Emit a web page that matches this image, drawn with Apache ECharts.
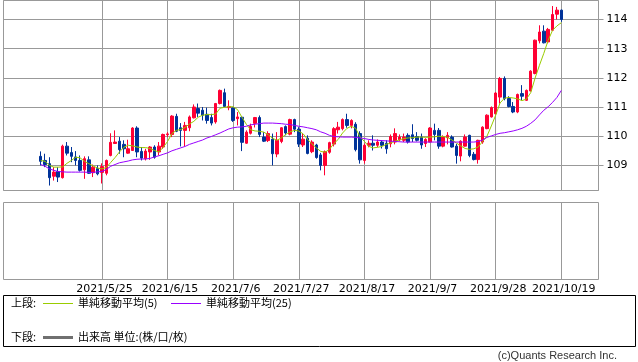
<!DOCTYPE html>
<html><head><meta charset="utf-8">
<script src="https://cdn.jsdelivr.net/npm/echarts@6/dist/echarts.min.js"></script>
<style>html,body{margin:0;padding:0;background:#fff}#c{width:638px;height:362px}</style>
</head><body><div id="c"></div>
<script>
const dates = ['2021/5/5','2021/5/6','2021/5/7','2021/5/10','2021/5/11','2021/5/12','2021/5/13','2021/5/14','2021/5/17','2021/5/18','2021/5/19','2021/5/20','2021/5/21','2021/5/24','2021/5/25','2021/5/26','2021/5/27','2021/5/28','2021/5/31',
'2021/6/1','2021/6/2','2021/6/3','2021/6/4','2021/6/7','2021/6/8','2021/6/9','2021/6/10','2021/6/11','2021/6/14','2021/6/15','2021/6/16','2021/6/17','2021/6/18','2021/6/21','2021/6/22','2021/6/23','2021/6/24','2021/6/25','2021/6/28','2021/6/29','2021/6/30',
'2021/7/1','2021/7/2','2021/7/5','2021/7/6','2021/7/7','2021/7/8','2021/7/9','2021/7/12','2021/7/13','2021/7/14','2021/7/15','2021/7/16','2021/7/19','2021/7/20','2021/7/21','2021/7/22','2021/7/23','2021/7/26','2021/7/27','2021/7/28','2021/7/29','2021/7/30',
'2021/8/2','2021/8/3','2021/8/4','2021/8/5','2021/8/6','2021/8/9','2021/8/10','2021/8/11','2021/8/12','2021/8/13','2021/8/16','2021/8/17','2021/8/18','2021/8/19','2021/8/20','2021/8/23','2021/8/24','2021/8/25','2021/8/26','2021/8/27','2021/8/30','2021/8/31',
'2021/9/1','2021/9/2','2021/9/3','2021/9/6','2021/9/7','2021/9/8','2021/9/9','2021/9/10','2021/9/13','2021/9/14','2021/9/15','2021/9/16','2021/9/17','2021/9/20','2021/9/21','2021/9/22','2021/9/23','2021/9/24','2021/9/27','2021/9/28','2021/9/29','2021/9/30',
'2021/10/1','2021/10/4','2021/10/5','2021/10/6','2021/10/7','2021/10/8','2021/10/11','2021/10/12','2021/10/13','2021/10/14','2021/10/15','2021/10/18','2021/10/19'];

const opens = [109.31,109.17,109.06,108.63,108.79,108.58,109.66,109.44,109.29,109.17,108.85,109.19,108.75,108.89,108.76,108.73,109.34,109.75,109.83,
109.72,109.42,109.51,110.28,109.48,109.23,109.46,109.63,109.46,109.63,110.05,110.06,110.68,110.29,110.20,110.29,110.63,110.95,110.89,110.75,110.64,110.49,
111.12,111.49,110.98,110.97,110.60,110.65,109.76,110.10,110.44,110.64,109.97,109.85,109.90,109.39,109.82,110.33,110.07,110.57,110.24,109.70,109.93,109.47,
109.70,109.36,109.00,109.45,109.73,110.22,110.26,110.57,110.37,110.41,110.09,109.17,109.69,109.76,109.69,109.80,109.76,109.74,109.80,109.88,109.86,110.03,
110.05,109.99,109.97,109.75,109.80,110.20,110.20,109.66,109.95,109.97,109.66,109.32,109.66,110.03,109.38,109.20,109.80,110.26,110.66,110.77,111.34,111.98,
111.29,111.02,110.83,111.46,111.23,111.55,112.15,113.27,113.60,113.23,113.63,114.18,114.32];
const closes = [109.14,109.03,108.58,108.77,108.60,109.66,109.42,109.31,109.17,108.83,109.23,108.73,108.94,108.71,108.96,109.17,109.79,109.80,109.54,
109.57,109.57,110.28,109.46,109.25,109.49,109.63,109.28,109.66,110.06,110.08,110.69,110.17,110.20,110.37,110.66,111.00,110.79,110.72,110.54,110.45,111.12,
111.57,111.02,111.02,110.54,110.66,109.79,110.14,110.34,110.64,110.06,109.83,110.09,109.40,109.86,110.29,110.11,110.57,110.24,109.73,109.90,109.41,109.80,
109.27,109.00,109.47,109.78,110.26,110.31,110.57,110.37,110.54,109.54,109.19,109.69,109.76,109.69,109.80,109.69,109.57,109.99,110.09,109.97,109.97,109.80,
109.92,109.86,109.70,109.89,110.28,110.06,109.66,109.97,110.03,109.63,109.34,109.83,109.97,109.34,109.20,109.86,110.31,110.72,110.98,111.48,111.98,111.29,
111.02,110.83,111.43,111.37,111.57,112.23,113.29,113.57,113.20,113.66,114.17,114.32,114.00];
const lows = [109.00,108.94,108.31,108.48,108.43,108.55,109.34,109.11,109.00,108.79,108.54,108.71,108.60,108.66,108.38,108.66,109.31,109.74,109.40,
109.28,109.40,109.51,109.28,109.17,109.17,109.19,109.23,109.34,109.57,109.97,109.97,110.14,109.65,109.66,110.17,110.61,110.66,110.54,110.43,110.37,110.43,
111.09,111.00,110.89,110.49,110.37,109.49,109.74,110.06,110.30,109.97,109.80,109.80,109.00,109.28,109.76,110.03,110.03,110.14,109.63,109.63,109.38,109.42,
109.23,108.83,108.66,109.40,109.65,110.09,110.20,110.29,110.27,109.48,109.06,109.06,109.62,109.51,109.62,109.58,109.40,109.62,109.72,109.82,109.80,109.75,
109.80,109.82,109.57,109.63,109.79,109.86,109.57,109.62,109.72,109.61,109.06,109.14,109.65,109.28,109.17,109.06,109.74,110.24,110.64,110.75,111.12,111.23,
110.99,110.79,110.79,111.23,111.21,111.54,112.12,113.18,113.18,113.18,113.61,114.00,113.92];
const highs = [109.48,109.40,109.28,108.94,108.94,109.71,109.80,109.63,109.49,109.34,109.31,109.31,109.03,109.00,109.07,109.20,110.10,110.20,109.97,
109.86,109.88,110.31,110.34,109.63,109.57,109.66,109.69,109.80,110.09,110.14,110.72,110.77,110.45,110.49,110.71,111.09,111.12,111.00,110.98,110.77,111.14,
111.60,111.63,111.23,110.98,110.83,110.68,110.20,110.43,110.66,110.71,110.14,110.17,110.09,110.14,110.31,110.37,110.60,110.60,110.31,110.09,110.03,109.86,
109.74,109.43,109.51,109.81,110.31,110.49,110.61,110.77,110.58,110.48,110.17,109.75,109.86,110.03,109.89,109.86,109.86,110.06,110.27,110.06,110.09,110.10,
110.41,110.14,110.09,109.93,110.31,110.43,110.28,110.03,110.14,110.03,109.74,109.86,110.06,110.05,109.46,109.88,110.34,110.75,111.02,111.51,112.03,112.05,
111.37,111.17,111.46,111.75,111.60,112.26,113.31,113.80,113.80,113.71,114.46,114.43,114.34];
const ma5 = [109.17,109.14,109.00,108.94,108.94,108.95,109.07,109.17,109.28,109.26,109.14,109.06,108.98,108.91,108.88,108.93,109.10,109.27,109.46,
109.62,109.69,109.67,109.63,109.61,109.61,109.58,109.51,109.46,109.62,109.82,110.09,110.20,110.23,110.30,110.42,110.51,110.65,110.72,110.74,110.74,110.76,
110.96,110.99,111.01,111.01,110.91,110.65,110.41,110.22,110.18,110.17,110.14,110.05,109.93,109.86,109.94,110.06,110.15,110.20,110.18,110.08,109.89,109.74,
109.60,109.48,109.45,109.55,109.75,109.89,110.11,110.27,110.34,110.27,109.98,109.82,109.65,109.60,109.62,109.65,109.72,109.77,109.83,109.87,109.92,109.94,
109.95,109.97,109.97,109.96,109.97,109.98,110.00,109.99,109.96,109.87,109.77,109.67,109.58,109.55,109.57,109.63,109.82,110.00,110.35,110.72,111.14,111.30,
111.33,111.31,111.28,111.22,111.27,111.49,111.99,112.43,112.84,113.29,113.63,113.78,113.89];
const ma25 = [109.03,108.97,108.88,108.83,108.79,108.78,108.77,108.77,108.77,108.77,108.77,108.76,108.76,108.78,108.79,108.86,108.97,109.03,109.09,
109.12,109.15,109.19,109.21,109.22,109.22,109.24,109.29,109.33,109.38,109.43,109.50,109.55,109.60,109.65,109.72,109.77,109.82,109.87,109.94,109.99,110.05,
110.11,110.18,110.25,110.29,110.31,110.32,110.34,110.39,110.41,110.43,110.45,110.45,110.45,110.44,110.43,110.41,110.40,110.37,110.34,110.32,110.29,110.26,
110.22,110.15,110.10,110.03,109.99,109.98,109.97,109.97,109.97,109.96,109.94,109.92,109.89,109.87,109.86,109.85,109.84,109.83,109.82,109.81,109.80,109.80,
109.80,109.80,109.80,109.80,109.80,109.80,109.80,109.80,109.80,109.80,109.80,109.80,109.80,109.80,109.80,109.82,109.87,109.96,110.01,110.06,110.10,110.12,
110.15,110.18,110.22,110.27,110.34,110.44,110.56,110.73,110.89,111.01,111.16,111.33,111.57];
const tickDates = ['2021/5/25','2021/6/15','2021/7/6','2021/7/27','2021/8/17','2021/9/7','2021/9/28','2021/10/19'];

const PAD = 8;
const padL = Array.from({length: PAD}, (_, i) => 'padL' + i);
const padR = Array.from({length: PAD}, (_, i) => 'padR' + i);
const blanks = Array.from({length: PAD}, () => '-');
const cats = padL.concat(dates, padR);
const candleData = blanks.concat(dates.map((d, i) => [opens[i], closes[i], lows[i], highs[i]]), blanks);
const ma5Data = blanks.concat(ma5, blanks);
const ma25Data = blanks.concat(ma25, blanks);
const isTick = (idx, val) => tickDates.indexOf(val) >= 0;

const GRID = '#999999';
const C5 = '#99cc00', C25 = '#9900ff';
const JP = '11px "Noto Sans CJK JP"';
const chart = echarts.init(document.getElementById('c'), null, {renderer: 'canvas'});
chart.setOption({
  animation: false,
  backgroundColor: '#ffffff',
  textStyle: {fontFamily: 'DejaVu Sans'},
  grid: [
    {left: 3.5, top: 0.5, width: 595, height: 190, show: true, borderColor: GRID, borderWidth: 1, backgroundColor: 'transparent'},
    {left: 3.5, top: 202.5, width: 595, height: 77, show: true, borderColor: GRID, borderWidth: 1, backgroundColor: 'transparent'}
  ],
  xAxis: [
    {type: 'category', gridIndex: 0, data: cats, boundaryGap: true,
     axisLine: {show: false}, axisTick: {show: false}, axisLabel: {show: false},
     splitLine: {show: true, interval: isTick, alignWithLabel: true, lineStyle: {color: GRID, width: 1}}},
    {type: 'category', gridIndex: 1, data: cats, boundaryGap: true,
     axisLine: {show: false}, axisTick: {show: false},
     axisLabel: {show: true, interval: isTick, margin: 4, fontSize: 11, fontFamily: 'DejaVu Sans', color: '#000', padding: [0, 0, 0, 5]},
     splitLine: {show: true, interval: isTick, alignWithLabel: true, lineStyle: {color: GRID, width: 1}}}
  ],
  yAxis: [
    {type: 'value', gridIndex: 0, position: 'right', min: 108.14, max: 114.65, splitNumber: 6,
     axisLine: {show: false},
     axisTick: {show: true, inside: false, length: 5, lineStyle: {color: GRID}},
     axisLabel: {margin: 8, fontSize: 11, fontFamily: 'DejaVu Sans', color: '#000', showMinLabel: false, showMaxLabel: false},
     splitLine: {show: true, lineStyle: {color: GRID, width: 1}}},
    {type: 'value', gridIndex: 1, min: 0, max: 1, show: false, splitLine: {show: false}}
  ],
  series: [
    {name: '日足', type: 'candlestick', xAxisIndex: 0, yAxisIndex: 0, data: candleData, barWidth: 3,
     itemStyle: {color: '#ff0033', color0: '#003399', borderColor: '#ff0033', borderColor0: '#003399', borderWidth: 1}},
    {name: '単純移動平均(5)', type: 'line', xAxisIndex: 0, yAxisIndex: 0, data: ma5Data, symbol: 'none',
     lineStyle: {color: C5, width: 1}, itemStyle: {color: C5}},
    {name: '単純移動平均(25)', type: 'line', xAxisIndex: 0, yAxisIndex: 0, data: ma25Data, symbol: 'none',
     lineStyle: {color: C25, width: 1}, itemStyle: {color: C25}}
  ],
  graphic: [
    {type: 'rect', shape: {x: 3.5, y: 295.5, width: 632, height: 51}, style: {fill: 'none', stroke: '#000', lineWidth: 1}, silent: true},
    {type: 'text', x: 11, y: 303, style: {text: '上段:', font: JP, fill: '#000', verticalAlign: 'middle'}},
    {type: 'line', shape: {x1: 43, y1: 303.5, x2: 73, y2: 303.5}, style: {stroke: C5, lineWidth: 1}, silent: true},
    {type: 'text', x: 78, y: 303, style: {text: '単純移動平均(5)', font: JP, fill: '#000', verticalAlign: 'middle'}},
    {type: 'line', shape: {x1: 171, y1: 303.5, x2: 201, y2: 303.5}, style: {stroke: C25, lineWidth: 1}, silent: true},
    {type: 'text', x: 206, y: 303, style: {text: '単純移動平均(25)', font: JP, fill: '#000', verticalAlign: 'middle'}},
    {type: 'text', x: 11, y: 337, style: {text: '下段:', font: JP, fill: '#000', verticalAlign: 'middle'}},
    {type: 'rect', shape: {x: 43, y: 336, width: 30, height: 3}, style: {fill: '#707070'}, silent: true},
    {type: 'text', x: 78, y: 337, style: {text: '出来高 単位:(株/口/枚)', font: JP, fill: '#000', verticalAlign: 'middle'}},
    {type: 'text', x: 617, y: 356, style: {text: '(c)Quants Research Inc.', font: '11px "Liberation Sans"', fill: '#333', align: 'right', verticalAlign: 'middle'}}
  ]
});
</script>
</body></html>
